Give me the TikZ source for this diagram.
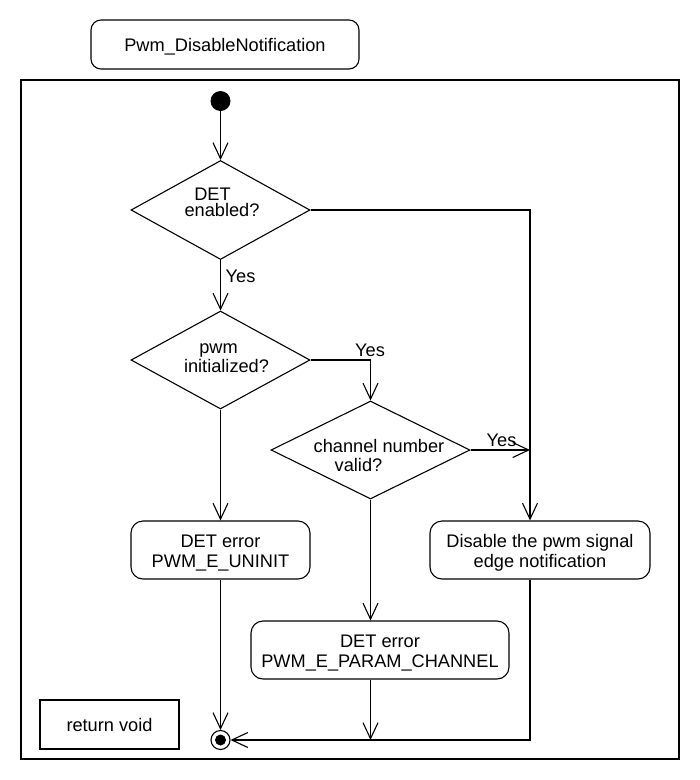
\documentclass[tikz,border=0pt]{standalone}
\usepackage{fontspec}
\setmainfont{Liberation Sans}
\usetikzlibrary{shapes.geometric,arrows.meta}
\begin{document}
\begin{tikzpicture}[x=1pt,y=-1pt,
  every node/.style={font=\fontsize{18.2}{19.5}\selectfont},
  lw/.style={line width=1.1pt},
  arr/.style={lw,-{Straight Barb[length=16pt,width=15pt]}},
  actbox/.style={draw,lw,rounded corners=12pt,inner sep=0pt,align=center,
    minimum height=58pt,text height=36pt,text depth=2pt},
  plainbox/.style={draw,lw,inner sep=0pt,text height=16pt,text depth=2pt},
  decision/.style={draw,lw,diamond,inner sep=0pt},
  lbl/.style={anchor=base,inner sep=0pt}]
\fill[white] (0,0) rectangle (700,780);
\useasboundingbox (0,0) rectangle (700,780);

% title and frame
\node[plainbox,rounded corners=10pt,minimum width=268pt,minimum height=49pt] (title) at (225,44.5) {Pwm\_DisableNotification};
\node[draw,lw,minimum width=658pt,minimum height=679pt,inner sep=0pt] (frame) at (350,419.5) {};

% start / end
\node[circle,fill=black,minimum size=20pt,inner sep=0pt] (s) at (220.5,101) {};
\node[circle,draw,lw,fill=white,minimum size=19pt,inner sep=0pt] (e) at (220.5,740) {};
\node[circle,fill=black,minimum size=11pt,inner sep=0pt] (ei) at (220.5,740) {};

% decisions
\node[decision,minimum width=179pt,minimum height=99pt] (d1) at (220.5,210) {};
\node[lbl] (d1a) at (212.5,200) {DET};
\node[lbl] (d1b) at (222,216.5) {enabled?};

\node[decision,minimum width=179pt,minimum height=98pt] (d2) at (220.5,360) {};
\node[lbl] (d2a) at (218.5,353) {pwm};
\node[lbl] (d2b) at (226.5,372) {initialized?};

\node[decision,minimum width=199pt,minimum height=98pt] (d3) at (370.5,450) {};
\node[lbl] (d3a) at (379,452.5) {channel number};
\node[lbl] (d3b) at (358.5,471) {valid?};

% actions
\node[actbox,minimum width=179pt] (u) at (220.5,550) {DET error\\PWM\_E\_UNINIT};
\node[actbox,minimum width=220pt] (dis) at (540,550) {Disable the pwm signal\\edge notification};
\node[actbox,minimum width=258pt] (p) at (380,650) {DET error\\PWM\_E\_PARAM\_CHANNEL};
\node[plainbox,minimum width=139pt,minimum height=49pt] (rv) at (109.5,724.5) {return void};

% labels
\node[lbl] (y1) at (240.5,282) {Yes};
\node[lbl] (y2) at (370,356.5) {Yes};
\node[lbl] (y3) at (501.5,446.5) {Yes};

\coordinate (c1) at (530,210);

% connectors
\draw[arr] (s) -- (d1.north);
\draw[arr] (d1.south) -- (d2.north);
\draw[arr] (d2.south) -- (u.north);
\draw[arr] (u.south) -- (e.north);
\draw[arr] (d2.east) -| (d3.north);
\draw[arr] (d3.south) -- (d3.south |- p.north);
\draw[arr] (d1.east) -- (c1) -- (c1 |- dis.north);
\draw[arr] (d3.east) -- (c1 |- d3.east);
\draw[arr] (c1 |- dis.south) |- (e.east);
\draw[arr] (d3.south |- p.south) -- (d3.south |- e.east);
\end{tikzpicture}
\end{document}
